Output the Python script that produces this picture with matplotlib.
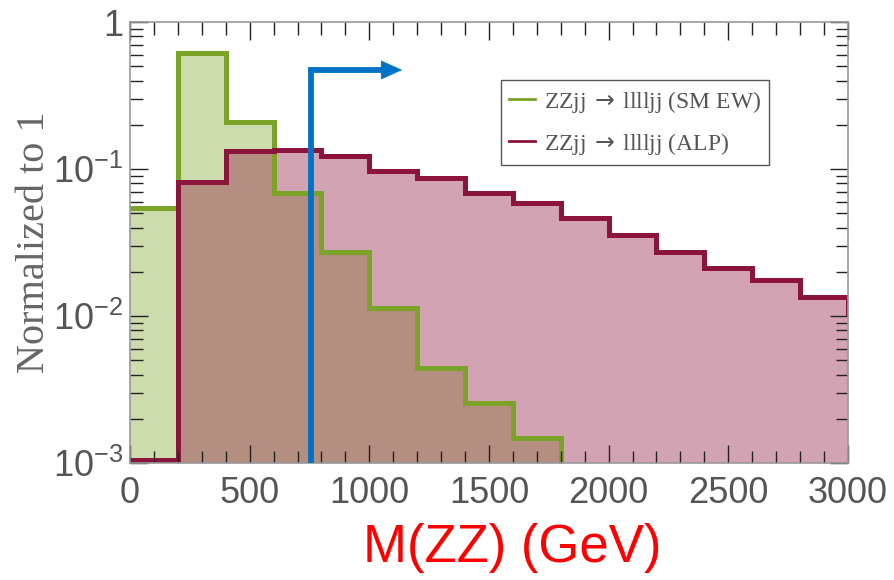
import numpy as np
import matplotlib
matplotlib.use('Agg')
import matplotlib.pyplot as plt

# bin edges (GeV), 200 GeV wide
edges = np.arange(0, 3201, 200)

# SM EW ZZjj -> lllljj, normalised (no entries above 1800 GeV)
sm_ew = [0.054, 0.615, 0.209, 0.0687, 0.0272, 0.0113, 0.00443, 0.00257, 0.00148]

# ALP ZZjj -> lllljj, normalised (last bin lies past the axis range)
alp = [0.00105, 0.0816, 0.133, 0.135, 0.1226, 0.097, 0.0868, 0.0687,
       0.0587, 0.0464, 0.0356, 0.0272, 0.0212, 0.0176, 0.0135, 0.0105]

# blue cut arrow
cut_mzz = 755
arrow_top = 0.472
arrow_tip = 1137
head_len = 84

y_ticks = [1e-3, 1e-2, 1e-1, 1]
y_ticklabels = [r'$\mathregular{10^{-3}}$', r'$\mathregular{10^{-2}}$',
                r'$\mathregular{10^{-1}}$', '1']
x_ticks = [0, 500, 1000, 1500, 2000, 2500, 3000]

green = '#7aa328'
red = '#8c143c'
blue = '#0072c6'
floor = 1e-6

plt.rcParams['font.family'] = ['Liberation Sans', 'DejaVu Sans']

fig = plt.figure(figsize=(8.94, 5.8), dpi=100)
ax = fig.add_axes([0.1454, 0.2017, 0.8031, 0.7603])

sm_edges = edges[:len(sm_ew) + 1]
alp_edges = edges[:len(alp) + 1]

# fills
ax.stairs(sm_ew, sm_edges, baseline=floor, fill=True, color=green, alpha=0.38, lw=0)
ax.stairs(alp, alp_edges, baseline=floor, fill=True, color=red, alpha=0.39, lw=0)

# outlines (green drops to the floor after the last bin)
sm_line = np.append(sm_ew, floor)
ax.stairs(sm_line, edges[:len(sm_line) + 1], baseline=None, color=green, lw=3.6,
          label=r'ZZjj$\,\rightarrow\,$lllljj (SM EW)')
ax.stairs(alp, alp_edges, baseline=None, color=red, lw=3.6,
          label=r'ZZjj$\,\rightarrow\,$lllljj (ALP)')

# cut arrow
ax.plot([cut_mzz, cut_mzz, arrow_tip - head_len + 5], [1.05e-3, arrow_top, arrow_top],
        color=blue, lw=4.2, solid_joinstyle='miter', zorder=5)
ax.annotate('', xy=(arrow_tip, arrow_top), xytext=(arrow_tip - head_len, arrow_top),
            arrowprops=dict(arrowstyle='-|>,head_length=1.0,head_width=0.45',
                            color=blue, lw=0.5, mutation_scale=14.4,
                            shrinkA=0, shrinkB=0), zorder=5)

ax.set_yscale('log')
ax.set_xlim(0, 3000)
ax.set_ylim(1e-3, 1)

ax.set_yticks(y_ticks)
ax.set_yticklabels(y_ticklabels)
ax.set_xticks(x_ticks)
ax.set_xticks(np.arange(0, 3001, 100), minor=True)

ax.tick_params(which='both', direction='in', top=True, right=True,
               colors='#222222', labelcolor='#555555', width=1.0)
ax.tick_params(which='major', length=13, labelsize=26)
ax.tick_params(which='minor', length=9)
ax.tick_params(axis='x', pad=9)
ax.tick_params(axis='y', pad=5)

for s in ax.spines.values():
    s.set_color('#999999')
    s.set_linewidth(1.2)

ax.set_ylabel('Normalized to 1', family=['Liberation Serif', 'DejaVu Serif'],
              fontsize=29, color='#666666', labelpad=0)
ax.set_xlabel('M(ZZ) (GeV)', color='red', fontsize=38)
ax.xaxis.set_label_coords(0.532, -0.135)

leg = ax.legend(loc='upper left', bbox_to_anchor=(0.517, 0.868), borderaxespad=0,
                prop={'family': ['Liberation Serif', 'DejaVu Serif'], 'size': 17},
                fancybox=False, framealpha=1, edgecolor='#555555',
                handlelength=1.1, handletextpad=0.35, labelspacing=0.68,
                borderpad=0.35)
leg.get_frame().set_linewidth(1.0)
for t in leg.get_texts():
    t.set_color('#555555')
for h in leg.get_lines():
    h.set_linewidth(2)

fig.savefig('out.png', dpi=100)
